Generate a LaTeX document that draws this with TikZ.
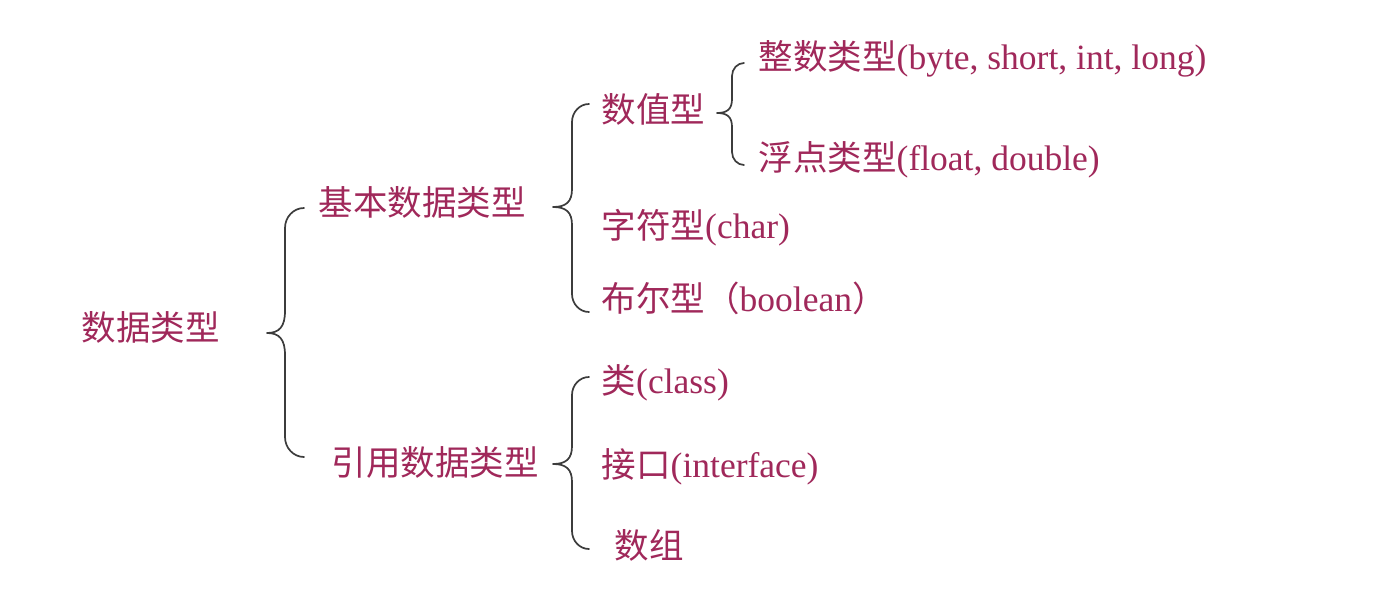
\documentclass[tikz,border=0pt]{standalone}
\usepackage{fontspec}
\setmainfont{Liberation Serif}
\newfontfamily\cjk{Noto Sans CJK SC}
\definecolor{txt}{RGB}{160,40,90}
\definecolor{brc}{RGB}{60,60,60}
\newcommand{\cj}[1]{{\cjk\fontsize{34.5}{40}\selectfont #1}}
\tikzset{
  lbl/.style={anchor=base west,inner sep=0pt,text=txt,font=\fontsize{35.5}{40}\selectfont},
  bracestroke/.style={draw=brc,line width=1.7pt,line join=round,line cap=round}
}
% brace: #1 end x, #2 vertical x, #3 tip x, #4 top y, #5 mid y, #6 bottom y, #7 end radius, #8 tip radius
\newcommand{\mybrace}[8]{%
  \path[bracestroke] (#1,#4) .. controls (#2+0.45*#1-0.45*#2,#4) and (#2,#4+0.45*#7) .. (#2,#4+#7)
    -- (#2,#5-#8) .. controls (#2,#5-0.3*#8) and (#2-0.3*#2+0.3*#3,#5) .. (#3,#5)
    .. controls (#2-0.3*#2+0.3*#3,#5) and (#2,#5+0.3*#8) .. (#2,#5+#8)
    -- (#2,#6-#7) .. controls (#2,#6-0.45*#7) and (#2+0.45*#1-0.45*#2,#6) .. (#1,#6);}
\begin{document}
\begin{tikzpicture}[x=1pt,y=-1pt]
\useasboundingbox (0,0) rectangle (1397,596);
\fill[white] (0,0) rectangle (1397,596);
\node[lbl] (root) at (81.5,340) {\cj{数据类型}};
\node[lbl] (basic) at (318.5,215) {\cj{基本数据类型}};
\node[lbl] (ref) at (331.5,475) {\cj{引用数据类型}};
\node[lbl] (num) at (601.5,123) {\cj{数值型}};
\node[lbl] (int) at (758.5,70) {\cj{整数类型}(byte, short, int, long)};
\node[lbl] (flt) at (758.5,171) {\cj{浮点类型}(float, double)};
\node[lbl] (chr) at (601.5,238) {\cj{字符型}(char)};
\node[lbl] (bool) at (601.5,311) {\cj{布尔型（}boolean\cj{）}};
\node[lbl] (cls) at (601.5,393) {\cj{类}(class)};
\node[lbl] (ifc) at (601.5,477) {\cj{接口}(interface)};
\node[lbl] (arr) at (614.5,558) {\cj{数组}};
\mybrace{304}{285}{267}{208}{333}{457}{20}{22}
\mybrace{589}{572}{553}{104}{207}{312}{18}{18}
\mybrace{744}{732}{717}{63}{113}{165}{13}{14}
\mybrace{589}{572}{553}{377}{464}{549}{18}{18}
\end{tikzpicture}
\end{document}
